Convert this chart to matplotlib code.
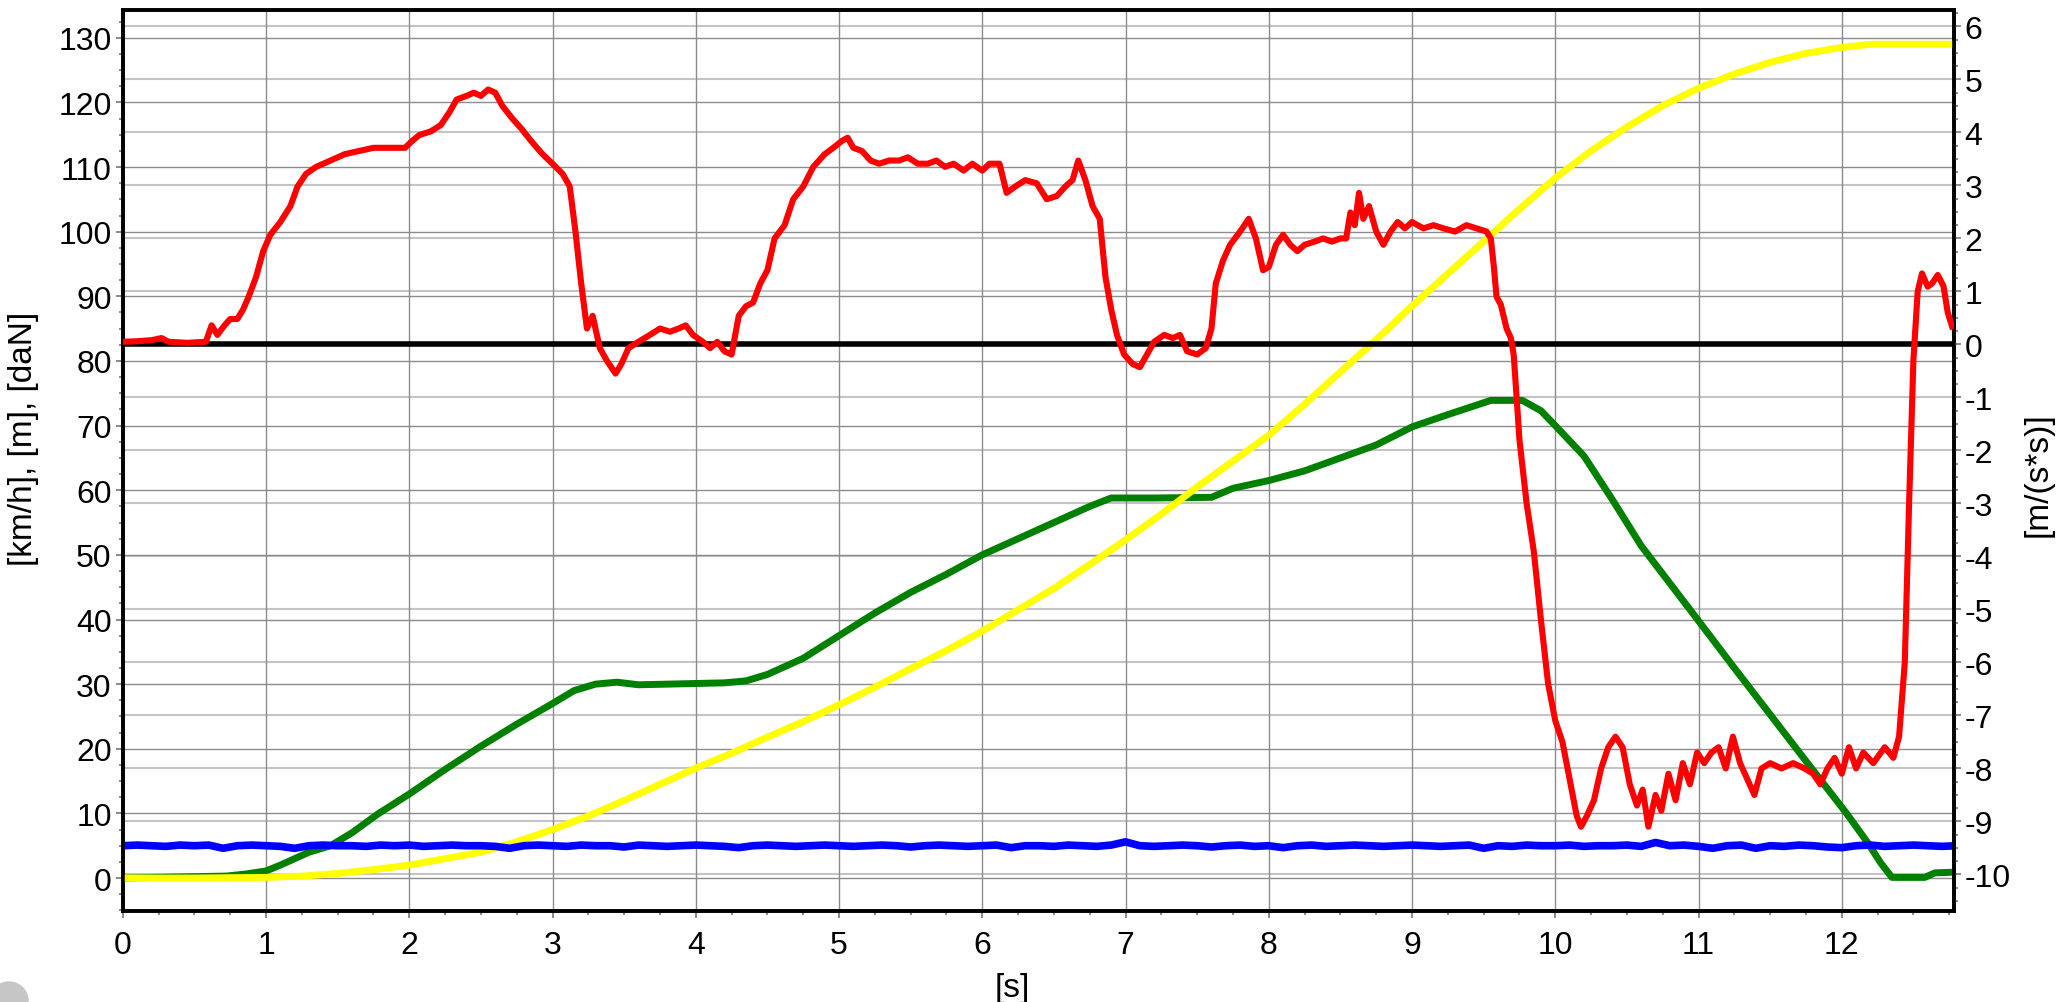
import numpy as np
import matplotlib
matplotlib.use('agg')
import matplotlib.pyplot as plt
import matplotlib.transforms as mtransforms
from matplotlib.ticker import MultipleLocator
from matplotlib.patches import Circle

plt.rcParams['font.family'] = ['Liberation Sans', 'DejaVu Sans']
plt.rcParams['axes.unicode_minus'] = False

# speed [km/h] (green, left axis)
t_speed = [0, 0.72, 0.85, 1.0, 1.1, 1.2, 1.3, 1.45, 1.6, 1.78, 2.0, 2.25, 2.5, 2.75,
           3.0, 3.15, 3.3, 3.45, 3.6, 3.8, 4.0, 4.2, 4.35, 4.5, 4.75, 5.0, 5.25,
           5.5, 5.75, 6.0, 6.25, 6.5, 6.75, 6.9, 7.2, 7.6, 7.75, 8.0, 8.25, 8.5,
           8.75, 9.0, 9.25, 9.55, 9.77, 9.9, 10.0, 10.2, 10.4, 10.6, 10.8, 11.0,
           11.25, 11.5, 11.75, 12.03, 12.18, 12.27, 12.35, 12.58, 12.65, 12.78]
speed = [0, 0.3, 0.6, 1.1, 2.0, 3.0, 4.0, 5.0, 7.0, 9.9, 13.0, 16.8, 20.4, 23.8,
         27.0, 29.0, 30.0, 30.3, 29.9, 30.0, 30.1, 30.2, 30.5, 31.5, 34.0, 37.5, 41.0,
         44.2, 47.0, 50.0, 52.5, 55.0, 57.5, 58.8, 58.8, 58.9, 60.3, 61.5, 63.0, 65.0,
         67.0, 69.8, 71.7, 73.9, 73.9, 72.3, 70.0, 65.3, 58.5, 51.4, 45.6, 39.8,
         32.5, 25.3, 18.1, 10.1, 5.5, 2.4, 0.1, 0.1, 0.8, 0.9]

# distance [m] (yellow, left axis)
t_dist = [0, 0.5, 1.0, 1.25, 1.5, 1.75, 2.0, 2.25, 2.5, 2.75, 3.0, 3.25, 3.5, 3.75,
          4.0, 4.25, 4.5, 4.75, 5.0, 5.25, 5.5, 5.75, 6.0, 6.25, 6.5, 6.75, 7.0,
          7.25, 7.5, 7.75, 8.0, 8.25, 8.5, 8.75, 9.0, 9.25, 9.5, 9.75, 10.0, 10.25,
          10.5, 10.75, 11.0, 11.25, 11.5, 11.75, 12.0, 12.2, 12.78]
dist = [0, 0, 0.1, 0.3, 0.7, 1.3, 2.0, 3.0, 4.0, 5.6, 7.5, 9.6, 12.0, 14.5,
        17.0, 19.3, 21.8, 24.2, 26.8, 29.5, 32.4, 35.2, 38.2, 41.5, 44.8, 48.5, 52.3,
        56.3, 60.5, 64.5, 68.5, 73.3, 78.3, 83.3, 88.5, 93.5, 98.5, 103.5, 108.3, 112.5,
        116.2, 119.5, 122.2, 124.4, 126.2, 127.6, 128.5, 129.0, 129.0]

# pedal force [daN] (blue, left axis), sampled every 0.1 s
force = [5.0, 5.1, 5.0, 4.9, 5.1, 5.0, 5.1, 4.6, 5.0, 5.1,
         5.0, 4.9, 4.6, 5.0, 5.1, 5.0, 5.0, 4.9, 5.1, 5.0,
         5.1, 4.9, 5.0, 5.1, 5.0, 5.0, 4.9, 4.6, 5.0, 5.1,
         5.0, 4.9, 5.1, 5.0, 5.0, 4.8, 5.1, 5.0, 4.9, 5.0,
         5.1, 5.0, 4.9, 4.7, 5.0, 5.1, 5.0, 4.9, 5.0, 5.1,
         5.0, 4.9, 5.0, 5.1, 5.0, 4.8, 5.0, 5.1, 5.0, 4.9,
         5.0, 5.1, 4.7, 5.0, 5.0, 4.9, 5.1, 5.0, 4.9, 5.1,
         5.6, 5.0, 4.9, 5.0, 5.1, 5.0, 4.8, 5.0, 5.1, 4.9,
         5.0, 4.7, 5.0, 5.1, 4.9, 5.0, 5.1, 5.0, 4.9, 5.0,
         5.1, 5.0, 4.9, 5.0, 5.1, 4.6, 5.0, 4.9, 5.1, 5.0,
         5.0, 5.1, 4.9, 5.0, 5.0, 5.1, 4.9, 5.5, 5.0, 5.1,
         4.9, 4.6, 5.0, 5.1, 4.6, 5.0, 4.9, 5.1, 5.0, 4.8,
         4.7, 5.0, 5.1, 4.9, 5.0, 5.1, 5.0, 4.9, 5.0]
t_force = np.arange(len(force)) * 0.1

# acceleration [m/(s*s)] (red, right axis)
t_acc = [0.00, 0.10, 0.20, 0.27, 0.32, 0.45, 0.58, 0.62, 0.66, 0.71, 0.75, 0.80, 0.84,
         0.88, 0.93, 0.98, 1.03, 1.10, 1.17, 1.22, 1.28, 1.35, 1.45, 1.55, 1.65, 1.75,
         1.85, 1.97, 2.02, 2.07, 2.15, 2.22, 2.28, 2.33, 2.40, 2.45, 2.50, 2.55, 2.60,
         2.65, 2.72, 2.78, 2.85, 2.93, 3.00, 3.07, 3.12, 3.16, 3.20, 3.24, 3.28, 3.33,
         3.38, 3.44, 3.48, 3.53, 3.60, 3.68, 3.75, 3.82, 3.88, 3.93, 3.98, 4.05, 4.10,
         4.15, 4.20, 4.25, 4.30, 4.35, 4.40, 4.45, 4.50, 4.55, 4.62, 4.68, 4.75, 4.82,
         4.90, 4.96, 5.02, 5.06, 5.10, 5.16, 5.22, 5.28, 5.35, 5.42, 5.48, 5.55, 5.62,
         5.68, 5.74, 5.80, 5.87, 5.93, 6.00, 6.05, 6.12, 6.17, 6.23, 6.30, 6.38, 6.45,
         6.52, 6.58, 6.63, 6.67, 6.72, 6.77, 6.82, 6.86, 6.90, 6.94, 6.99, 7.05, 7.10,
         7.15, 7.20, 7.27, 7.33, 7.38, 7.43, 7.50, 7.56, 7.60, 7.63, 7.68, 7.73, 7.80,
         7.86, 7.91, 7.96, 8.00, 8.05, 8.10, 8.15, 8.20, 8.25, 8.32, 8.38, 8.44, 8.50,
         8.54, 8.57, 8.60, 8.63, 8.66, 8.70, 8.75, 8.80, 8.85, 8.90, 8.95, 9.00, 9.08,
         9.15, 9.22, 9.30, 9.38, 9.45, 9.52, 9.55, 9.57, 9.59, 9.62, 9.66, 9.69, 9.71,
         9.75, 9.80, 9.85, 9.90, 9.95, 10.00, 10.05, 10.10, 10.15, 10.18, 10.22, 10.27,
         10.32, 10.37, 10.42, 10.47, 10.52, 10.57, 10.61, 10.65, 10.70, 10.74, 10.79,
         10.84, 10.89, 10.94, 10.99, 11.04, 11.09, 11.14, 11.19, 11.24, 11.29, 11.34,
         11.39, 11.44, 11.50, 11.58, 11.66, 11.74, 11.80, 11.85, 11.90, 11.95, 12.00,
         12.05, 12.10, 12.15, 12.22, 12.30, 12.36, 12.40, 12.44, 12.47, 12.50, 12.53,
         12.56, 12.60, 12.63, 12.67, 12.71, 12.74, 12.77]
acc = [0.05, 0.06, 0.08, 0.12, 0.05, 0.03, 0.05, 0.36, 0.18, 0.36, 0.48, 0.48, 0.66,
       0.91, 1.27, 1.76, 2.07, 2.31, 2.61, 2.98, 3.22, 3.35, 3.47, 3.59, 3.65, 3.71,
       3.71, 3.71, 3.84, 3.95, 4.02, 4.14, 4.38, 4.62, 4.69, 4.75, 4.69, 4.81, 4.75,
       4.50, 4.26, 4.08, 3.84, 3.59, 3.41, 3.22, 2.98, 2.13, 1.15, 0.30, 0.54, -0.07,
       -0.31, -0.55, -0.37, -0.07, 0.05, 0.18, 0.30, 0.24, 0.30, 0.36, 0.18, 0.05, -0.07,
       0.05, -0.13, -0.19, 0.54, 0.72, 0.79, 1.15, 1.40, 2.00, 2.25, 2.74, 2.98, 3.35,
       3.59, 3.71, 3.84, 3.90, 3.71, 3.65, 3.47, 3.41, 3.47, 3.47, 3.53, 3.41, 3.41,
       3.47, 3.35, 3.41, 3.28, 3.41, 3.28, 3.41, 3.41, 2.86, 2.98, 3.10, 3.04, 2.74,
       2.80, 2.98, 3.10, 3.47, 3.10, 2.61, 2.37, 1.27, 0.66, 0.18, -0.19, -0.37, -0.43,
       -0.19, 0.05, 0.18, 0.12, 0.18, -0.13, -0.19, -0.07, 0.30, 1.15, 1.58, 1.88, 2.13,
       2.37, 2.00, 1.40, 1.46, 1.88, 2.07, 1.88, 1.76, 1.88, 1.94, 2.00, 1.94, 2.00,
       2.00, 2.49, 2.25, 2.86, 2.37, 2.61, 2.13, 1.88, 2.13, 2.31, 2.19, 2.31, 2.19,
       2.25, 2.19, 2.13, 2.25, 2.19, 2.13, 2.00, 1.50, 0.90, 0.75, 0.30, 0.12, -0.20,
       -1.80, -3.00, -3.90, -5.20, -6.40, -7.10, -7.50, -8.20, -8.90, -9.10, -8.90, -8.60,
       -8.00, -7.60, -7.40, -7.60, -8.30, -8.70, -8.40, -9.10, -8.50, -8.80, -8.10,
       -8.60, -7.90, -8.30, -7.70, -7.90, -7.70, -7.60, -8.00, -7.40, -7.90, -8.20,
       -8.50, -8.00, -7.90, -8.00, -7.90, -8.00, -8.10, -8.30, -8.00, -7.80, -8.10,
       -7.60, -8.00, -7.70, -7.90, -7.60, -7.80, -7.40, -6.00, -3.00, -0.30, 1.00,
       1.34, 1.09, 1.15, 1.31, 1.10, 0.60, 0.34]

W, H = 2065, 1003
fig = plt.figure(figsize=(W / 100, H / 100), dpi=100)
ax = fig.add_axes([122.8 / W, (H - 912) / H, (1953.5 - 122.8) / W, (912 - 11) / H])
ax2 = ax.twinx()

ax.set_xlim(0, 12.78)
ax.set_ylim(-5.1, 134.3)
ax2.set_ylim(-10.69, 6.31)

ax.xaxis.set_major_locator(MultipleLocator(1))
ax.xaxis.set_minor_locator(MultipleLocator(0.25))
ax.yaxis.set_major_locator(MultipleLocator(10))
ax.yaxis.set_minor_locator(MultipleLocator(2.5))
ax2.yaxis.set_major_locator(MultipleLocator(1))
ax2.yaxis.set_minor_locator(MultipleLocator(0.25))

# grids: left scale and time, plus the right scale lines drawn underneath the curves
ax.grid(True, which='major', axis='both', color='#8c8c8c', lw=1.0, zorder=0)
ax.set_axisbelow(True)
right_trans = mtransforms.blended_transform_factory(ax.transAxes, ax2.transData)
for v in ax2.yaxis.get_majorticklocs():
    ax.plot([0, 1], [v, v], transform=right_trans, color='#c4c4c4', lw=1.5,
            zorder=0.5, scalex=False, scaley=False)

ax.plot(t_speed, speed, color='#008000', lw=5.0, zorder=3)
ax.plot(t_dist, dist, color='#ffff00', lw=5.0, zorder=4)
ax.plot(t_force, force, color='#0000ff', lw=5.5, zorder=5)

ax2.axhline(0, color='black', lw=4.0, zorder=2)
ax2.plot(t_acc, acc, color='#ff0000', lw=4.4, zorder=3)

for a in (ax, ax2):
    for s in a.spines.values():
        s.set_linewidth(2.6)
        s.set_color('black')

ax.tick_params(axis='both', which='major', direction='out', length=5, width=1.3,
               color='#808080', labelsize=23, pad=3)
ax.tick_params(axis='both', which='minor', direction='out', length=3, width=1.3,
               color='#808080')
ax.tick_params(axis='x', which='major', pad=9)
ax2.tick_params(axis='y', which='major', direction='out', length=5, width=1.3,
                color='#808080', labelsize=23, pad=3)
ax2.tick_params(axis='y', which='minor', direction='out', length=3, width=1.3,
                color='#808080')

ax.set_xlabel('[s]', fontsize=24)
ax.xaxis.set_label_coords(0.486, -0.068)
ax.set_ylabel('[km/h], [m], [daN]', fontsize=24)
ax.yaxis.set_label_coords(-0.046, 0.525)
ax2.set_ylabel('[m/(s*s)]', fontsize=24)
ax2.yaxis.set_label_coords(1.038, 0.485)

# grey dot in the lower left corner
fig.patches.append(Circle((0.09, 0.01), 0.19, transform=fig.dpi_scale_trans,
                          color='#c6c6c6', zorder=0))

fig.savefig('out.png', dpi=100)
